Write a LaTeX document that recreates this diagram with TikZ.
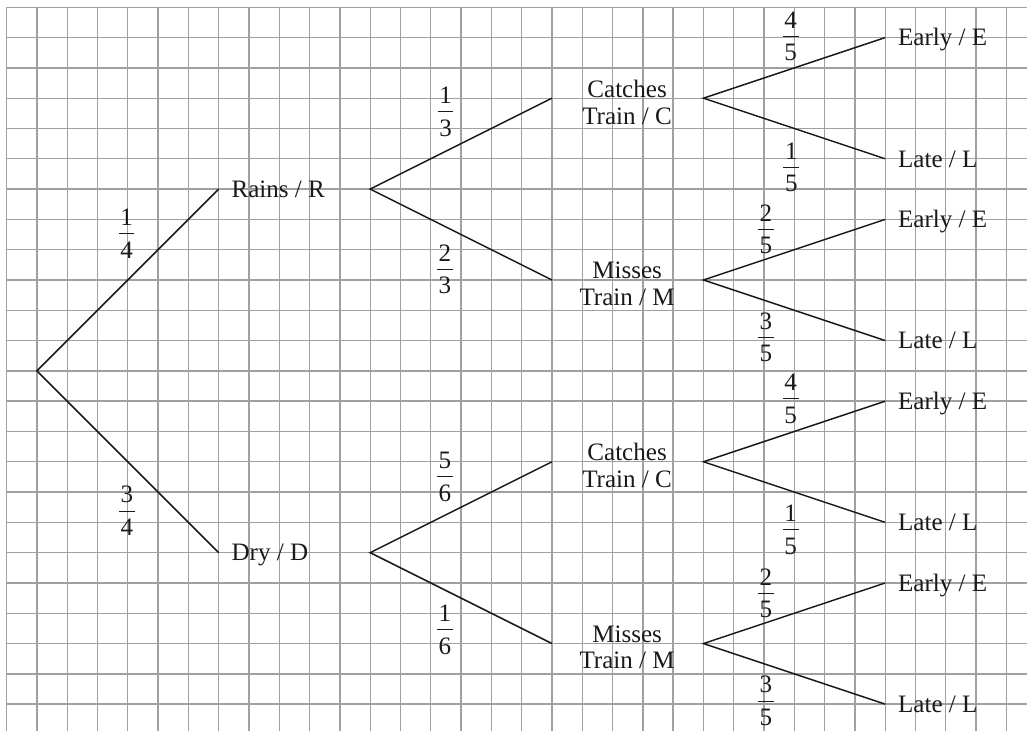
\documentclass[tikz,border=0pt]{standalone}
\usepackage{fontspec}
\setmainfont{Liberation Serif}
\definecolor{gridgray}{HTML}{A0A0A0}
\definecolor{inkdark}{HTML}{1A1A1A}
\newcommand{\fr}[2]{\vbox{\hbox to 11.8pt{\hss#1\hss}\kern5.6pt\hrule height 0.75pt\kern5.6pt\hbox to 11.8pt{\hss#2\hss}}}
\begin{document}
\begin{tikzpicture}[x=22.725pt,y=-22.725pt,
  gridline/.style={draw=gridgray, line width=1.0pt, line cap=rect},
  branch/.style={draw=inkdark, line width=1.1pt},
  lab/.style={font=\fontsize{18.8pt}{20pt}\selectfont, text=inkdark, anchor=west, inner xsep=9.5pt, inner ysep=0pt, text height=12.4pt, text depth=0pt},
  mid/.style={font=\fontsize{18.8pt}{20pt}\selectfont, text=inkdark, align=center, inner sep=0pt},
  fracnode/.style={font=\fontsize{18.8pt}{20pt}\selectfont, text=inkdark, inner sep=0pt}]
\useasboundingbox[fill=white] (-0.218,-0.241) rectangle (33.68,23.88);
% grid
\foreach \i in {0,...,33} \draw[gridline] (\i,0) -- (\i,23.88);
\foreach \j in {0,...,23} \draw[gridline] (0,\j) -- (33.68,\j);
% branch points
\coordinate (root) at (1,12);
\coordinate (Rout) at (12,6);
\coordinate (Dout) at (12,18);
\coordinate (C1in) at (18,3);
\coordinate (M1in) at (18,9);
\coordinate (C2in) at (18,15);
\coordinate (M2in) at (18,21);
\coordinate (C1out) at (23,3);
\coordinate (M1out) at (23,9);
\coordinate (C2out) at (23,15);
\coordinate (M2out) at (23,21);
% first level labels
\node[lab] (R) at (7,6) {Rains / R};
\node[lab] (D) at (7,18) {Dry / D};
% second level labels
\node[mid] (C1) at (20.48,3.13) {Catches\\Train / C};
\node[mid] (M1) at (20.48,9.13) {Misses\\Train / M};
\node[mid] (C2) at (20.48,15.13) {Catches\\Train / C};
\node[mid] (M2) at (20.48,21.13) {Misses\\Train / M};
% leaves
\node[lab] (E1) at (29,1) {Early / E};
\node[lab] (L1) at (29,5) {Late / L};
\node[lab] (E2) at (29,7) {Early / E};
\node[lab] (L2) at (29,11) {Late / L};
\node[lab] (E3) at (29,13) {Early / E};
\node[lab] (L3) at (29,17) {Late / L};
\node[lab] (E4) at (29,19) {Early / E};
\node[lab] (L4) at (29,23) {Late / L};
% connectors
\draw[branch] (R.west) -- (root) -- (D.west);
\draw[branch] (C1in) -- (Rout) -- (M1in);
\draw[branch] (C2in) -- (Dout) -- (M2in);
\draw[branch] (E1.west) -- (C1out) -- (L1.west);
\draw[branch] (E2.west) -- (M1out) -- (L2.west);
\draw[branch] (E3.west) -- (C2out) -- (L3.west);
\draw[branch] (E4.west) -- (M2out) -- (L4.west);
% probabilities
\node[fracnode] (pR) at (3.96,7.48) {\fr{1}{4}};
\node[fracnode] (pD) at (3.97,16.62) {\fr{3}{4}};
\node[fracnode] (pC1) at (14.49,3.45) {\fr{1}{3}};
\node[fracnode] (pM1) at (14.47,8.65) {\fr{2}{3}};
\node[fracnode] (pC2) at (14.47,15.5) {\fr{5}{6}};
\node[fracnode] (pM2) at (14.47,20.55) {\fr{1}{6}};
\node[fracnode] (pE1) at (25.88,0.95) {\fr{4}{5}};
\node[fracnode] (pL1) at (25.9,5.28) {\fr{1}{5}};
\node[fracnode] (pE2) at (25.06,7.32) {\fr{2}{5}};
\node[fracnode] (pL2) at (25.06,10.89) {\fr{3}{5}};
\node[fracnode] (pE3) at (25.88,12.92) {\fr{4}{5}};
\node[fracnode] (pL3) at (25.88,17.25) {\fr{1}{5}};
\node[fracnode] (pE4) at (25.06,19.34) {\fr{2}{5}};
\node[fracnode] (pL4) at (25.06,22.9) {\fr{3}{5}};
\end{tikzpicture}
\end{document}
